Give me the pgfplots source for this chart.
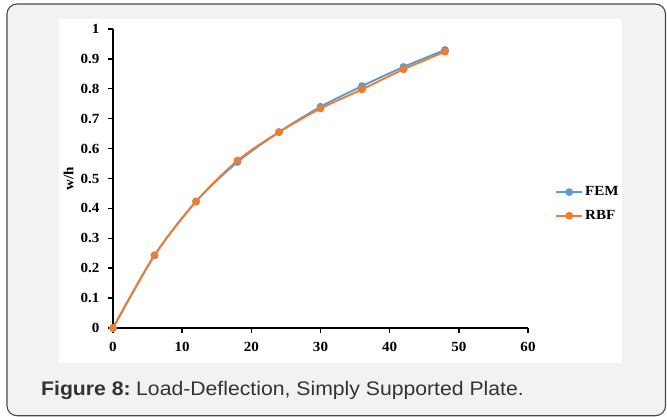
\documentclass[border=0pt]{standalone}
\usepackage{pgfplots}
\pgfplotsset{compat=1.18}
\usepackage{fontspec}
\setmainfont[FakeStretch=1.08]{Liberation Serif}
\newfontfamily\capfont[FakeStretch=1.08]{Liberation Sans}
\definecolor{bgcol}{HTML}{F1F2F4}
\definecolor{bordercol}{HTML}{4A4A4A}
\definecolor{femcol}{HTML}{5B9BD5}
\definecolor{rbfcol}{HTML}{ED7D31}
\definecolor{capcol}{HTML}{333333}

\begin{document}
\begin{tikzpicture}
\useasboundingbox (0bp,0bp) rectangle (667bp,417bp);
% panel and plot area
\draw[bordercol, line width=1.1bp, rounded corners=10bp, fill=bgcol]
  (7bp,1.3bp) rectangle (665.5bp,413bp);
\fill[white] (59bp,54bp) rectangle (622bp,398bp);

\begin{axis}[
    at={(113bp,89bp)}, anchor=south west,
    scale only axis,
    width=415bp, height=299bp,
    xmin=0, xmax=60, ymin=0, ymax=1,
    xtick={0,10,...,60},
    ytick={0,0.1,...,1},
    axis x line*=bottom, axis y line*=left,
    axis line style={line width=1.6bp, black},
    tick style={line width=1.4bp, black},
    tick align=outside,
    major tick length=5bp,
    /pgf/number format/assume math mode=true,
    /pgf/number format/fixed,
    /pgf/number format/precision=1,
    ticklabel style={font=\fontsize{14}{16}\selectfont\bfseries},
    xticklabel style={yshift=-6bp},
    yticklabel style={xshift=-5bp},
    ylabel={w/h},
    ylabel style={font=\fontsize{14}{16}\selectfont\bfseries, at={(axis description cs:-0.107,0.5)}, anchor=center},
    clip=false,
    legend style={draw=none, fill=none, at={(1.058,0.415)}, anchor=west,
        font=\fontsize{14}{16}\selectfont\bfseries, row sep=9bp,
        /tikz/every even column/.append style={column sep=1bp}},
    legend cell align=left,
    legend image code/.code={%
        \draw[mark repeat=2, mark phase=2, #1] plot coordinates {(0bp,0bp) (13bp,0bp) (26bp,0bp)};},
]
\addplot[color=femcol, line width=1.9bp, smooth, mark=*, mark size=2.9bp,
    mark options={fill=femcol, draw=femcol}] coordinates {
    (0,0) (6,0.243) (12,0.423) (18,0.555) (24,0.655)
    (30,0.740) (36,0.809) (42,0.873) (48,0.930)};
\addplot[color=rbfcol, line width=1.9bp, smooth, mark=*, mark size=2.9bp,
    mark options={fill=rbfcol, draw=rbfcol}] coordinates {
    (0,0) (6,0.243) (12,0.423) (18,0.560) (24,0.655)
    (30,0.734) (36,0.798) (42,0.865) (48,0.924)};
\legend{FEM,RBF}
\end{axis}

\node[anchor=base west, inner sep=0pt, text=capcol, font=\capfont\fontsize{19.7}{22}\selectfont]
  at (41bp,21.3bp) {\textbf{Figure 8:}\hspace{5.5bp}Load-Deflection, Simply Supported Plate.};
\end{tikzpicture}
\end{document}
